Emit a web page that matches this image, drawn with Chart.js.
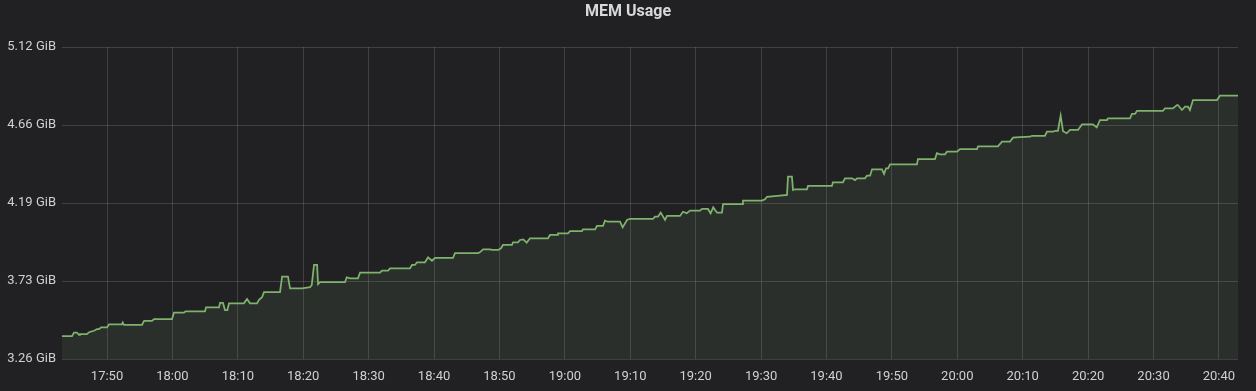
<!DOCTYPE html>
<html>
<head>
<meta charset="utf-8">
<script src="https://cdn.jsdelivr.net/npm/chart.js@4"></script>
<style>
  html, body { margin: 0; padding: 0; background: #212124; }
  #wrap { width: 1256px; height: 391px; position: relative; }
  canvas { display: block; }
</style>
</head>
<body>
<div id="wrap"><canvas id="c" width="1256" height="391"></canvas></div>
<script>
// ---- Data ----
const chartTitle = 'MEM Usage';
// sample times (HH:MM:SS)
const times = [
 '17:43:07','17:44:39','17:44:57','17:45:25','17:45:43','17:45:52','17:46:56','17:47:15','17:48:01','17:48:28',
 '17:48:47','17:49:05','17:50:00','17:50:19','17:52:17','17:52:24','17:52:36','17:55:21','17:55:40','17:56:53',
 '17:57:11','17:59:56','18:00:14','18:01:46','18:02:00','18:04:59','18:05:08','18:07:07','18:07:17','18:07:44',
 '18:08:02','18:08:24','18:08:39','18:10:56','18:11:24','18:11:52','18:12:56','18:13:14','18:13:42','18:14:00',
 '18:16:27','18:16:46','18:17:40','18:17:59','18:19:49','18:21:02','18:21:18','18:21:39','18:22:07','18:22:16',
 '18:22:34','18:26:23','18:26:39','18:27:09','18:28:22','18:28:41','18:31:44','18:32:02','18:32:58','18:33:16',
 '18:36:19','18:36:38','18:37:05','18:37:23','18:38:37','18:39:05','18:39:41','18:40:09','18:42:54','18:43:12',
 '18:46:43','18:47:00','18:47:30','18:48:33','18:48:52','18:49:47','18:50:14','18:50:32','18:51:55','18:52:04',
 '18:52:50','18:53:08','18:53:38','18:54:10','18:54:40','18:56:12','18:57:25','18:57:44','18:58:48','18:58:57',
 '19:00:29','19:00:47','19:02:37','19:02:46','19:04:37','19:04:55','19:05:50','19:06:08','19:06:35','19:08:26',
 '19:08:50','19:09:30','19:09:58','19:13:28','19:13:47','19:14:14','19:14:39','19:15:19','19:15:37','19:17:36',
 '19:18:04','19:18:38','19:19:08','19:20:40','19:20:58','19:21:53','19:22:17','19:22:41','19:23:16','19:24:01',
 '19:24:11','19:27:05','19:27:14','19:30:08','19:30:36','19:30:54','19:32:53','19:33:58','19:34:07','19:34:43',
 '19:34:53','19:35:11','19:37:01','19:37:10','19:40:50','19:40:59','19:42:31','19:42:50','19:43:54','19:44:22',
 '19:44:40','19:45:53','19:46:11','19:46:40','19:46:58','19:48:29','19:48:48','19:49:06','19:49:25','19:49:43',
 '19:53:50','19:53:59','19:56:35','19:56:53','19:57:21','19:58:07','19:58:25','19:59:57','20:00:25','20:03:01',
 '20:03:10','20:06:13','20:06:50','20:08:03','20:08:31','20:09:35','20:11:07','20:11:25','20:13:24','20:13:43',
 '20:14:38','20:14:56','20:15:23','20:15:48','20:16:10','20:16:43','20:17:14','20:18:27','20:19:04','20:20:44',
 '20:21:19','20:21:49','20:22:53','20:23:02','20:26:24','20:26:42','20:27:10','20:27:28','20:31:26','20:31:45',
 '20:32:58','20:33:35','20:33:44','20:34:21','20:34:49','20:35:16','20:35:34','20:36:02','20:39:42','20:40:10',
 '20:42:55'
];
// memory used, in GB (1e9 bytes)
const memGB = [
 3.646,3.646,3.669,3.669,3.654,3.660,3.660,3.672,3.681,3.692,
 3.692,3.703,3.703,3.722,3.722,3.734,3.718,3.718,3.744,3.744,
 3.756,3.756,3.797,3.797,3.806,3.806,3.831,3.831,3.859,3.859,
 3.814,3.814,3.857,3.857,3.885,3.857,3.857,3.880,3.896,3.928,
 3.928,4.028,4.028,3.953,3.953,3.960,3.974,4.103,4.103,3.979,
 3.992,3.992,4.024,4.017,4.017,4.053,4.053,4.066,4.066,4.081,
 4.081,4.103,4.103,4.120,4.120,4.152,4.130,4.149,4.149,4.178,
 4.178,4.184,4.203,4.203,4.199,4.199,4.210,4.231,4.231,4.248,
 4.248,4.263,4.267,4.246,4.274,4.274,4.274,4.295,4.295,4.306,
 4.306,4.319,4.319,4.331,4.331,4.354,4.354,4.387,4.380,4.380,
 4.344,4.391,4.399,4.399,4.412,4.412,4.438,4.391,4.417,4.417,
 4.444,4.434,4.451,4.451,4.462,4.462,4.434,4.472,4.438,4.438,
 4.492,4.492,4.515,4.515,4.524,4.540,4.548,4.552,4.669,4.669,
 4.583,4.588,4.588,4.609,4.609,4.633,4.633,4.658,4.658,4.647,
 4.658,4.658,4.675,4.675,4.716,4.716,4.686,4.722,4.722,4.748,
 4.748,4.782,4.782,4.819,4.812,4.812,4.829,4.829,4.846,4.846,
 4.863,4.863,4.893,4.893,4.919,4.922,4.925,4.931,4.931,4.957,
 4.957,4.963,4.963,5.060,4.960,4.947,4.968,4.968,5.004,5.004,
 4.985,5.032,5.032,5.043,5.043,5.071,5.071,5.090,5.090,5.107,
 5.107,5.128,5.128,5.096,5.117,5.117,5.096,5.160,5.160,5.188,
 5.188
];
// axis ranges / ticks
const xRange = ['17:43:07', '20:42:55'];
const xTickStepMin = 10;
const yTickValues = [3.5, 4.0, 4.5, 5.0, 5.5];
const yTickLabels = ['3.26 GiB', '3.73 GiB', '4.19 GiB', '4.66 GiB', '5.12 GiB'];

// ---- helpers ----
function toMin(s) {
  const p = s.split(':').map(Number);
  return p[0] * 60 + p[1] + (p[2] || 0) / 60;
}
function fmtMin(v) {
  const m = Math.round(v);
  const h = Math.floor(m / 60), mm = m % 60;
  return String(h).padStart(2, '0') + ':' + String(mm).padStart(2, '0');
}
const points = times.map((t, i) => ({ x: toMin(t), y: memGB[i] }));

Chart.defaults.font.family = 'Roboto, "Noto Sans", sans-serif';

const gridColor = 'rgba(255,255,255,0.14)';
const tickColor = '#cfd0d2';

new Chart(document.getElementById('c'), {
  type: 'line',
  data: {
    datasets: [{
      label: 'MEM',
      data: points,
      borderColor: '#7eb26d',
      backgroundColor: 'rgba(126,178,109,0.10)',
      borderWidth: 1.75,
      fill: 'start',
      pointRadius: 0,
      tension: 0
    }]
  },
  options: {
    responsive: false,
    animation: false,
    devicePixelRatio: 1,
    layout: { padding: { left: 0, right: 0, top: 0, bottom: 0 } },
    plugins: {
      legend: { display: false },
      tooltip: { enabled: false },
      title: {
        display: true,
        text: chartTitle,
        color: '#d8d9da',
        font: { size: 16, weight: 'bold' },
        padding: { top: 2, bottom: 25.8 }
      }
    },
    scales: {
      x: {
        type: 'linear',
        min: toMin(xRange[0]),
        max: toMin(xRange[1]),
        grid: { color: gridColor, drawTicks: false, lineWidth: 1 },
        border: { display: false },
        ticks: {
          stepSize: xTickStepMin,
          includeBounds: false,
          color: tickColor,
          font: { size: 13 },
          padding: 10,
          maxRotation: 0,
          autoSkip: false,
          callback: (v) => fmtMin(v)
        },
        afterFit: (s) => { s.height = 32; }
      },
      y: {
        min: yTickValues[0],
        max: yTickValues[yTickValues.length - 1],
        grid: { color: gridColor, drawTicks: false, lineWidth: 1 },
        border: { display: false },
        afterBuildTicks: (s) => { s.ticks = yTickValues.map(v => ({ value: v })); },
        ticks: {
          color: tickColor,
          font: { size: 13 },
          padding: 6,
          callback: (v, i) => yTickLabels[i]
        },
        afterFit: (s) => { s.width = 62; }
      },
      yRightGap: {
        position: 'right',
        display: true,
        grid: { display: false, drawTicks: false },
        border: { display: false },
        ticks: { display: false },
        afterFit: (s) => { s.width = 18; }
      }
    }
  }
});
</script>
</body>
</html>
